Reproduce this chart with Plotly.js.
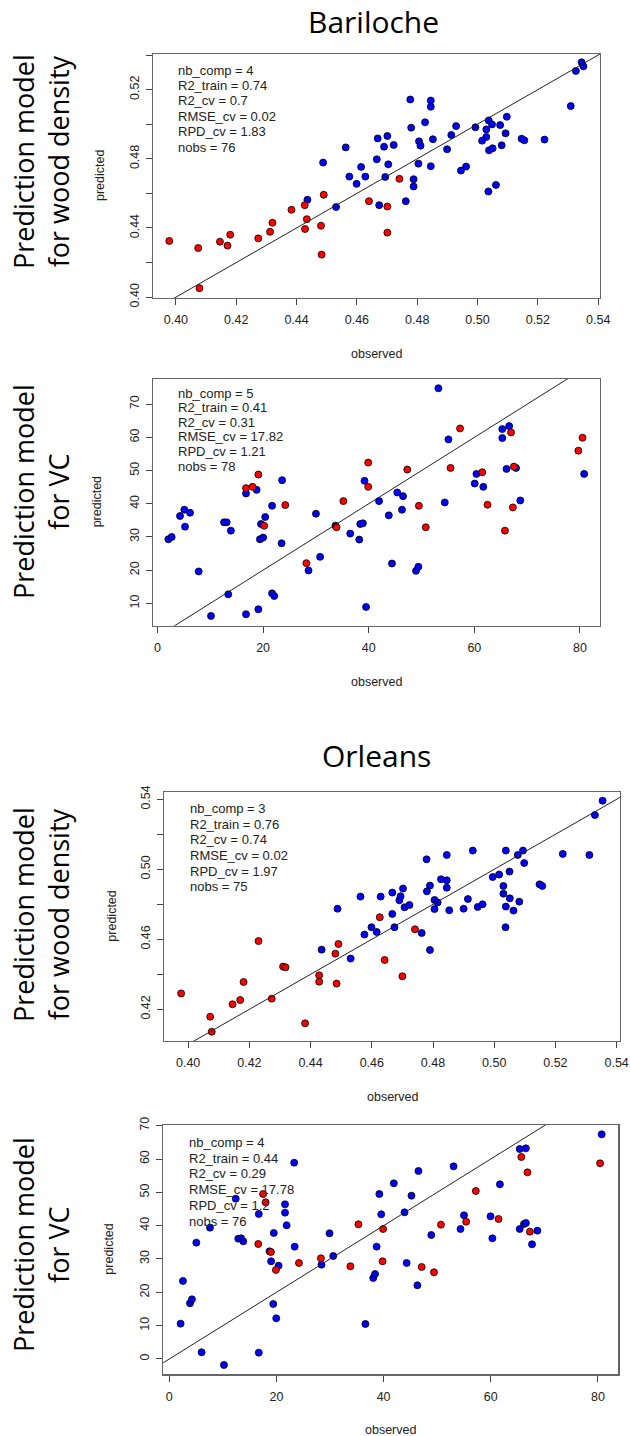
<!DOCTYPE html>
<html><head><meta charset="utf-8">
<script src="https://cdn.plot.ly/plotly-3.0.1.min.js"></script>
<style>html,body{margin:0;padding:0;background:#fff}#chart{width:630px;height:1436px}</style>
</head><body><div id="chart"></div>
<script>
// ---------------- DATA ----------------
const siteTitles = ['Bariloche', 'Orleans'];
const rowLabels = ['Prediction model<br>for wood density', 'Prediction model<br>for VC',
                   'Prediction model<br>for wood density', 'Prediction model<br>for VC'];
const xAxisTitle = 'observed';
const yAxisTitle = 'predicted';
const statNames = ['nb_comp', 'R2_train', 'R2_cv', 'RMSE_cv', 'RPD_cv', 'nobs'];
const statsBariDensity = ['4', '0.74', '0.7', '0.02', '1.83', '76'];
const statsBariVC = ['5', '0.41', '0.31', '17.82', '1.21', '78'];
const statsOrlDensity = ['3', '0.76', '0.74', '0.02', '1.97', '75'];
const statsOrlVC = ['4', '0.44', '0.29', '17.78', '1.2', '76'];

const densityTicks = [0.40, 0.42, 0.44, 0.46, 0.48, 0.50, 0.52, 0.54];
const densityXLabels = ['0.40', '0.42', '0.44', '0.46', '0.48', '0.50', '0.52', '0.54'];
const bariDensityYLabels = ['0.40', '', '0.44', '', '0.48', '', '0.52', ''];
const orlDensityYLabels = ['', '0.42', '', '0.46', '', '0.50', '', '0.54'];
const vcXTicks = [0, 20, 40, 60, 80];
const vcXLabels = ['0', '20', '40', '60', '80'];
const bariVCYTicks = [10, 20, 30, 40, 50, 60, 70];
const bariVCYLabels = ['10', '20', '30', '40', '50', '60', '70'];
const orlVCYTicks = [0, 10, 20, 30, 40, 50, 60, 70];
const orlVCYLabels = ['0', '10', '20', '30', '40', '50', '60', '70'];

// Bariloche – wood density
const bariDensBlueObs = [0.4436,0.4531,0.4488,0.4563,0.4575,0.4599,0.4614,0.4628,0.4669,0.4701,0.4690,0.4666,0.4704,0.4694,0.4674,
  0.4722,0.4777,0.4780,0.4845,0.4845,0.4826,0.4806,0.4811,0.4852,0.4804,0.4845,0.4788,0.4788,0.4762,0.4899,0.4913,0.4929,0.4945,0.4962,
  0.4993,0.5029,0.5037,0.5048,0.5029,0.5015,0.5038,0.5050,0.5075,0.5097,0.5093,0.5080,0.5061,0.5036,0.5146,0.5155,0.5222,0.5309,0.5326,0.5345,0.5351];
const bariDensBluePred = [0.4563,0.4521,0.4778,0.4866,0.4697,0.4655,0.4753,0.4697,0.4918,0.4932,0.4870,0.4797,0.4768,0.4695,0.4532,
  0.4880,0.5143,0.4980,0.5137,0.5101,0.5011,0.4901,0.4876,0.4913,0.4772,0.4757,0.4682,0.4640,0.4555,0.4855,0.4938,0.4989,0.4732,0.4755,
  0.4982,0.4970,0.5022,0.4999,0.4926,0.4905,0.4849,0.4861,0.4995,0.5043,0.4947,0.4878,0.4649,0.4611,0.4916,0.4907,0.4911,0.5105,0.5308,0.5358,0.5335];
const bariDensRedObs = [0.3978,0.4074,0.4078,0.4146,0.4171,0.4180,0.4273,0.4312,0.4320,0.4383,0.4427,0.4434,0.4428,0.4481,0.4483,0.4490,0.4640,0.4701,0.4701,0.4741];
const bariDensRedPred = [0.4325,0.4284,0.4052,0.4321,0.4298,0.4361,0.4340,0.4378,0.4430,0.4505,0.4532,0.4451,0.4394,0.4413,0.4246,0.4592,0.4555,0.4524,0.4373,0.4684];

// Bariloche – VC
const bariVCBlueObs = [2.05,2.68,4.26,5.08,6.16,5.21,7.80,10.13,12.6,13.1,13.9,13.4,16.76,16.76,18.78,19.1,19.6,19.4,20.0,20.4,21.7,21.7,22.1,23.6,23.5,
  30.0,30.8,28.6,33.7,36.5,38.2,38.4,38.9,39.2,39.5,41.95,43.8,44.4,45.4,46.5,46.3,48.96,49.4,53.2,54.4,55.1,60.07,60.4,61.7,65.3,65.3,66.6,66.1,67.9,68.7,80.8];
const bariVCBluePred = [29.3,30.0,36.3,38.2,37.3,33.1,19.6,6.2,34.4,34.4,31.9,12.7,43.1,6.7,44.2,8.2,33.9,29.3,29.8,36.0,39.4,13.0,12.2,47.1,28.1,
  37.0,24.0,19.9,33.4,31.0,29.2,33.9,34.1,46.9,8.9,40.8,36.5,22.0,43.4,42.3,38.2,19.8,21.0,74.8,40.4,59.4,46.1,49.0,45.1,62.5,59.8,63.4,50.5,50.8,41.0,49.0];
const bariVCRedObs = [16.76,18.0,19.1,20.2,24.2,28.2,33.9,35.2,39.9,39.9,47.3,49.5,50.8,55.5,57.3,61.5,62.5,65.8,66.95,67.3,67.5,79.7,80.5];
const bariVCRedPred = [44.7,45.1,48.8,33.4,39.6,22.1,32.9,40.8,52.4,45.1,50.3,39.4,32.9,50.8,62.7,49.5,39.7,31.9,61.5,38.9,51.2,56.0,59.9];

// Orleans – wood density
const orlDensBlueObs = [0.4436,0.4488,0.4531,0.4563,0.4576,0.4599,0.4616,0.4629,0.4667,0.4667,0.4674,0.4690,0.4694,0.4702,0.4707,0.4723,0.4763,0.4779,
  0.4780,0.4790,0.4790,0.4805,0.4805,0.4815,0.4826,0.4845,0.4845,0.4845,0.4853,0.4900,0.4914,0.4930,0.4946,0.4962,0.4995,0.5016,0.5030,0.5030,
  0.5038,0.5038,0.5037,0.5050,0.5051,0.5063,0.5077,0.5082,0.5094,0.5098,0.5148,0.5157,0.5224,0.5311,0.5329,0.5354];
const orlDensBluePred = [0.4541,0.4775,0.4490,0.4844,0.4627,0.4669,0.4642,0.4844,0.4867,0.4745,0.4669,0.4823,0.4846,0.4890,0.4783,0.4796,0.4636,0.5057,
  0.4874,0.4907,0.4539,0.4825,0.4773,0.4811,0.4943,0.5082,0.4937,0.4895,0.4766,0.4775,0.4830,0.5107,0.4785,0.4800,0.4956,0.4970,0.4905,0.4861,
  0.5107,0.4787,0.4669,0.4987,0.4834,0.4764,0.5082,0.4815,0.5107,0.5036,0.4914,0.4905,0.5088,0.5082,0.5310,0.5392];
const orlDensRedObs = [0.3977,0.4072,0.4077,0.4145,0.4170,0.4181,0.4230,0.4273,0.4310,0.4318,0.4382,0.4428,0.4428,0.4481,0.4491,0.4485,0.4626,0.4642,0.4741,0.4700];
const orlDensRedPred = [0.4291,0.4158,0.4072,0.4229,0.4253,0.4356,0.4590,0.4261,0.4444,0.4440,0.4120,0.4394,0.4358,0.4518,0.4573,0.4347,0.4726,0.4482,0.4657,0.4389];

// Orleans – VC
const orlVCBlueObs = [2.11,2.55,3.86,4.23,5.04,6.03,7.59,10.2,12.4,12.87,13.4,13.8,16.7,16.7,18.7,19.0,19.4,19.5,19.96,20.4,21.6,21.6,21.9,23.4,23.3,
  28.4,29.9,30.6,38.06,38.4,38.7,36.6,39.2,39.55,41.9,43.9,44.3,45.2,46.5,46.3,48.9,53.05,54.35,55.0,59.95,60.3,61.7,65.4,66.55,65.4,66.2,66.55,68.7,67.7,80.7];
const orlVCBluePred = [10.6,23.4,16.7,17.9,34.9,2.0,39.4,-1.8,48.1,36.1,36.2,35.3,43.5,1.9,32.3,29.3,16.5,37.8,12.2,28.0,46.4,43.9,40.1,33.7,58.9,
  28.3,37.7,30.9,24.3,25.5,33.7,10.5,49.5,43.4,52.7,44.0,28.8,49.0,56.4,22.1,37.2,57.8,39.0,43.1,42.8,36.2,52.4,63.0,63.2,39.0,40.5,40.8,38.5,34.4,67.4];
const orlVCRedObs = [16.6,17.5,17.97,18.97,19.9,24.2,28.3,33.8,35.3,39.9,39.8,47.1,49.4,50.7,55.4,57.2,61.45,65.7,66.85,67.3,80.4];
const orlVCRedPred = [34.5,49.5,47.0,32.1,26.7,28.8,30.2,27.8,40.4,39.0,29.3,27.6,26.0,40.3,41.2,50.4,42.0,60.6,56.0,38.2,58.7];

// ---------------- LAYOUT CONFIG ----------------
const W = 630, H = 1436;
const px = v => v / W;
const py = v => 1 - v / H;
const panels = [
  {box:[153,600,54,298], xr:[0.3924,0.5406], yr:[0.3995,0.5406], xt:densityTicks, xl:densityXLabels, yt:densityTicks, yl:bariDensityYLabels,
   blue:[bariDensBlueObs,bariDensBluePred], red:[bariDensRedObs,bariDensRedPred], stats:statsBariDensity, sx:176.7, sy:70, sdy:15.45,
   row:rowLabels[0], rowY:162, predX:100},
  {box:[152.7,600,379,625.7], xr:[-0.91,83.8], yr:[3.25,77.6], xt:vcXTicks, xl:vcXLabels, yt:bariVCYTicks, yl:bariVCYLabels,
   blue:[bariVCBlueObs,bariVCBluePred], red:[bariVCRedObs,bariVCRedPred], stats:statsBariVC, sx:176.7, sy:393.3, sdy:14.55,
   row:rowLabels[1], rowY:492, predX:97},
  {box:[164.3,620,792.3,1041], xr:[0.3922,0.5411], yr:[0.4019,0.544], xt:densityTicks, xl:densityXLabels, yt:densityTicks, yl:orlDensityYLabels,
   blue:[orlDensBlueObs,orlDensBluePred], red:[orlDensRedObs,orlDensRedPred], stats:statsOrlDensity, sx:189, sy:808.3, sdy:15.7,
   row:rowLabels[2], rowY:915, predX:112},
  {box:[163.3,618.3,1125,1374.3], xr:[-1.12,83.8], yr:[-4.6,70.2], xt:vcXTicks, xl:vcXLabels, yt:orlVCYTicks, yl:orlVCYLabels,
   blue:[orlVCBlueObs,orlVCBluePred], red:[orlVCRedObs,orlVCRedPred], stats:statsOrlVC, sx:187.7, sy:1142.3, sdy:15.75,
   row:rowLabels[3], rowY:1245, predX:109}
];

const tickFont = {family:'Liberation Sans, Arial, sans-serif', size:12.5, color:'#222'};
const bigFont = {family:'Open Sans, Noto Sans, sans-serif', size:27, color:'#000'};
const traces = [];
const layout = {width:W, height:H, margin:{l:0,r:0,t:0,b:0}, showlegend:false,
  paper_bgcolor:'#fff', plot_bgcolor:'#fff', annotations:[]};

panels.forEach((p, i) => {
  const n = i === 0 ? '' : String(i + 1);
  const xa = 'x' + n, ya = 'y' + n;
  const mk = c => ({size:7, color:c, line:{color:'#000', width:0.8}});
  const lo = Math.min(p.xr[0], p.yr[0]), hi = Math.max(p.xr[1], p.yr[1]);
  traces.push({type:'scatter', mode:'markers', x:p.blue[0], y:p.blue[1], xaxis:xa, yaxis:ya, marker:mk('#0000ff'), cliponaxis:false, hoverinfo:'skip'});
  traces.push({type:'scatter', mode:'markers', x:p.red[0], y:p.red[1], xaxis:xa, yaxis:ya, marker:mk('#ff0000'), cliponaxis:false, hoverinfo:'skip'});
  traces.push({type:'scatter', mode:'lines', x:[lo, hi], y:[lo, hi], xaxis:xa, yaxis:ya, line:{color:'#222', width:1}, hoverinfo:'skip'});
  const common = {showgrid:false, zeroline:false, showline:true, mirror:true, linecolor:'#666', linewidth:1.2,
    ticks:'outside', ticklen:6, tickwidth:1, tickcolor:'#444', tickfont:tickFont, fixedrange:true, tickmode:'array'};
  layout['xaxis' + n] = Object.assign({}, common, {domain:[px(p.box[0]), px(p.box[1])], range:p.xr, anchor:ya,
    tickvals:p.xt, ticktext:p.xl, ticklabelstandoff:4});
  layout['yaxis' + n] = Object.assign({}, common, {domain:[py(p.box[3]), py(p.box[2])], range:p.yr, anchor:xa,
    tickvals:p.yt, ticktext:p.yl, tickangle:-90, ticklabelstandoff:2});
  // stats text
  p.stats.forEach((v, k) => {
    layout.annotations.push({xref:'paper', yref:'paper', x:px(p.sx), y:py(p.sy + k * p.sdy), xanchor:'left', yanchor:'middle',
      text:statNames[k] + ' = ' + v, showarrow:false, font:{family:'Liberation Sans, Arial, sans-serif', size:13, color:'#222'}, borderpad:0});
  });
  const cx = (p.box[0] + p.box[1]) / 2, cy = (p.box[2] + p.box[3]) / 2;
  layout.annotations.push({xref:'paper', yref:'paper', x:px(cx), y:py(p.box[3] + 56), xanchor:'center', yanchor:'middle',
    text:xAxisTitle, showarrow:false, font:{family:'Liberation Sans, Arial, sans-serif', size:12.5, color:'#222'}});
  layout.annotations.push({xref:'paper', yref:'paper', x:px(p.predX), y:py(cy), xanchor:'center', yanchor:'middle', textangle:-90,
    text:yAxisTitle, showarrow:false, font:{family:'Liberation Sans, Arial, sans-serif', size:12.5, color:'#222'}});
  layout.annotations.push({xref:'paper', yref:'paper', x:px(41), y:py(p.rowY), xanchor:'center', yanchor:'middle', textangle:-90,
    text:p.row, showarrow:false, font:bigFont});
});
layout.annotations.push({xref:'paper', yref:'paper', x:px(373), y:py(22), xanchor:'center', yanchor:'middle',
  text:siteTitles[0], showarrow:false, font:{family:'Open Sans, Noto Sans, sans-serif', size:30, color:'#000'}});
layout.annotations.push({xref:'paper', yref:'paper', x:px(376.5), y:py(755), xanchor:'center', yanchor:'middle',
  text:siteTitles[1], showarrow:false, font:{family:'Open Sans, Noto Sans, sans-serif', size:30, color:'#000'}});

Plotly.newPlot('chart', traces, layout, {staticPlot:true, displayModeBar:false});
</script>
</body></html>
